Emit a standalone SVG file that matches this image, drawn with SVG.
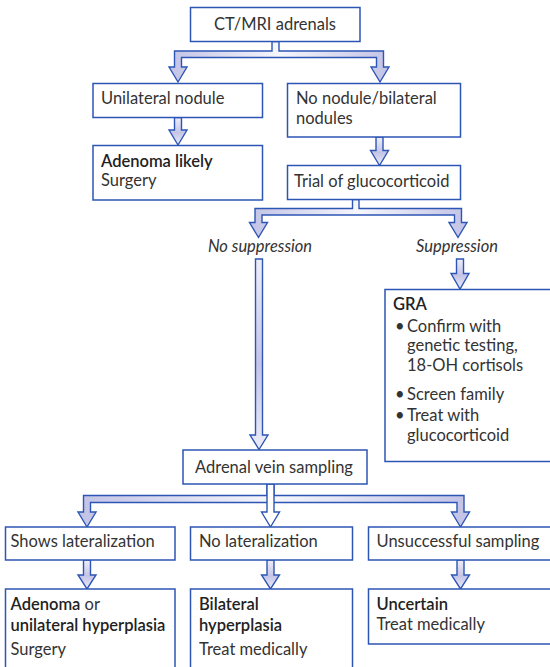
<svg xmlns="http://www.w3.org/2000/svg" width="550" height="667" viewBox="0 0 550 667">
<style>
.box{fill:#fff;stroke:#2d55b4;stroke-width:1.5}
.arr{stroke:#2d55b4;stroke-width:1.4;stroke-linejoin:miter}
text{font-family:Lato,"Open Sans","Liberation Sans",sans-serif;font-size:16.5px;fill:#333}
.b{font-weight:600;fill:#222}
.i{font-style:italic}
</style>
<defs>
<linearGradient id="gh" x1="0" y1="0" x2="1" y2="0">
<stop offset="0" stop-color="#c2c2e6"/>
<stop offset="0.5" stop-color="#f6f6fc"/>
<stop offset="1" stop-color="#c2c2e6"/>
</linearGradient>
<linearGradient id="gv" x1="0" y1="0" x2="0" y2="1">
<stop offset="0" stop-color="#eeeef8"/>
<stop offset="0.55" stop-color="#c4c4e8"/>
<stop offset="1" stop-color="#ececf8"/>
</linearGradient>
</defs>
<g id="connectors">
<path class="arr" fill="url(#gh)" d="M272,41.5 V51 H174.5 V67 H169 L178,82 L187,67 H181.5 V57.5 H376.5 V67 H371 L380,82 L389,67 H383.5 V51 H279 V41.5 Z"/>
<path class="arr" fill="url(#gv)" d="M174.5,117.5 V130 H169 L178,145 L187,130 H181.5 V117.5 Z"/>
<path class="arr" fill="url(#gv)" d="M376,137 V150.5 H370.5 L379.5,165.5 L388.5,150.5 H383 V137 Z"/>
<path class="arr" fill="url(#gh)" d="M352.5,199.5 V208.5 H255 V222.5 H249.5 L258.5,237.5 L267.5,222.5 H262 V215 H454.5 V222.5 H449 L458,237.5 L467,222.5 H461.5 V208.5 H359 V199.5 Z"/>
<path class="arr" fill="url(#gv)" d="M255.5,259 V435 H250 L259,449.5 L268,435 H262.5 V259 Z"/>
<path class="arr" fill="url(#gv)" d="M456.5,259 V273.5 H451 L460,289 L469,273.5 H463.5 V259 Z"/>
<path class="arr" fill="url(#gh)" d="M267,484 V495.5 H83.5 V512 H78 L87,527 L96,512 H90.5 V502.5 H457 V512 H451.5 L460.5,527 L469.5,512 H464 V495.5 H274 V484 Z"/>
<path class="arr" fill="#fff" d="M267,484 V512 H261.5 L270.5,527 L279.5,512 H274 V484 Z"/>
<path class="arr" fill="url(#gv)" d="M83.5,560 V575 H78 L87,589 L96,575 H90.5 V560 Z"/>
<path class="arr" fill="url(#gv)" d="M267,560 V575 H261.5 L270.5,589 L279.5,575 H274 V560 Z"/>
<path class="arr" fill="url(#gv)" d="M457,560 V575 H451.5 L460.5,589 L469.5,575 H464 V560 Z"/>
</g>
<g id="ct"><rect class="box" x="190.5" y="7.5" width="169.5" height="34"/><text x="275" y="30" text-anchor="middle">CT/MRI adrenals</text></g>
<g id="unilateral"><rect class="box" x="93" y="83.5" width="169.5" height="34"/><text x="101" y="104">Unilateral nodule</text></g>
<g id="nonodule"><rect class="box" x="287.5" y="83.5" width="173" height="53.5"/><text x="296" y="104">No nodule/bilateral</text><text x="296" y="124">nodules</text></g>
<g id="adenomalikely"><rect class="box" x="93" y="145.5" width="169.5" height="54.5"/><text class="b" x="101" y="166.5">Adenoma likely</text><text x="101" y="186">Surgery</text></g>
<g id="trial"><rect class="box" x="287.5" y="165.5" width="173" height="34"/><text x="294" y="186.5">Trial of glucocorticoid</text></g>
<g id="nosuppression"><text class="i" x="260" y="251.5" text-anchor="middle">No suppression</text></g>
<g id="suppression"><text class="i" x="457" y="251.5" text-anchor="middle">Suppression</text></g>
<g id="gra"><rect class="box" x="385" y="289.5" width="170" height="172"/>
<text class="b" x="393" y="310">GRA</text>
<text x="395" y="332">•</text><text x="407" y="332">Confirm with</text>
<text x="407" y="351">genetic testing,</text>
<text x="407" y="371">18-OH cortisols</text>
<text x="395" y="400">•</text><text x="407" y="400">Screen family</text>
<text x="395" y="421">•</text><text x="407" y="421">Treat with</text>
<text x="407" y="441">glucocorticoid</text>
</g>
<g id="avs"><rect class="box" x="183" y="450" width="184" height="34"/><text x="195" y="472.5">Adrenal vein sampling</text></g>
<g id="shows"><rect class="box" x="5.5" y="527" width="169.5" height="33"/><text x="10.5" y="547">Shows lateralization</text></g>
<g id="nolat"><rect class="box" x="190.5" y="527" width="162" height="33"/><text x="199" y="547">No lateralization</text></g>
<g id="unsucc"><rect class="box" x="368.5" y="527" width="190" height="33"/><text x="376.5" y="547">Unsuccessful sampling</text></g>
<g id="adenoma"><rect class="box" x="5.5" y="589" width="169.5" height="85"/><text x="10.5" y="610"><tspan class="b">Adenoma</tspan> or</text><text class="b" x="10.5" y="630.5">unilateral hyperplasia</text><text x="10.5" y="655">Surgery</text></g>
<g id="bilateral"><rect class="box" x="190.5" y="589" width="162" height="85"/><text class="b" x="199" y="610">Bilateral</text><text class="b" x="199" y="630.5">hyperplasia</text><text x="199" y="655">Treat medically</text></g>
<g id="uncertain"><rect class="box" x="368.5" y="589" width="190" height="55"/><text class="b" x="376.5" y="610">Uncertain</text><text x="376.5" y="630">Treat medically</text></g>
</svg>
